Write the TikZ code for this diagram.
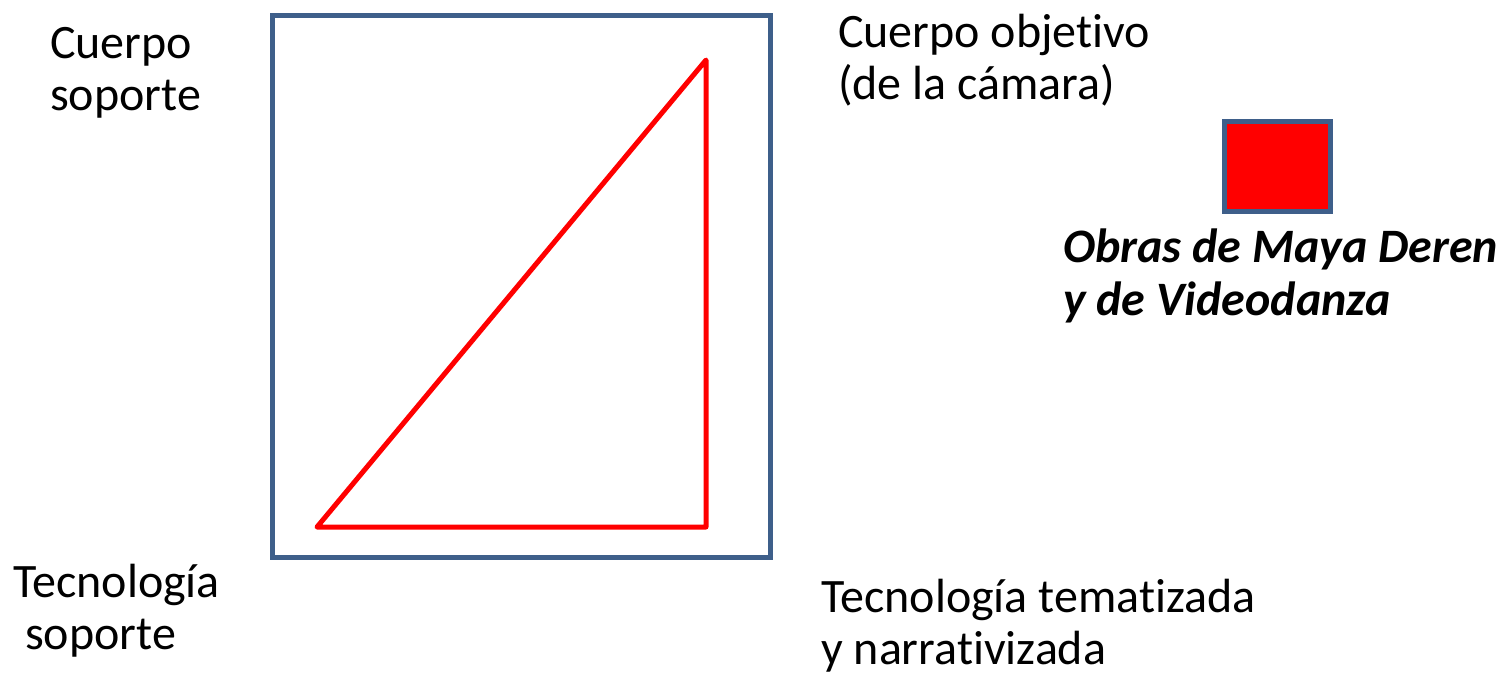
\documentclass[tikz,border=0pt]{standalone}
\usepackage{fontspec}
\setmainfont{Carlito}[Ligatures=NoCommon]
\begin{document}
\begin{tikzpicture}[x=1pt,y=-1pt,
  lbl/.style={inner sep=0pt,align=left,font=\fontsize{48}{52}\selectfont},
  frame/.style={draw=outline,line width=5pt,outer sep=0pt,inner sep=0pt},
  tri/.style={draw=red,line width=5pt,line join=round,line cap=round}]
\definecolor{outline}{HTML}{3E5F8A}
\useasboundingbox (0,0) rectangle (1505,681);
\node[frame,minimum width=498pt,minimum height=542pt,anchor=north west] (box) at (272.5,15.5) {};
\coordinate (a) at (317,527);
\coordinate (b) at (706,60);
\coordinate (c) at (706,527);
\draw[tri] (a) -- (b) -- (c) -- cycle;
\node[frame,fill=red,minimum width=106pt,minimum height=89.5pt,anchor=north west] (sq) at (1224.5,121.5) {};
\node[lbl,anchor=base west] (cs) at (50,110) {Cuerpo\\soporte};
\node[lbl,anchor=base west] (co) at (838,99) {Cuerpo objetivo\\(de la cámara)};
\node[lbl,anchor=base west] (ts) at (13,649) {Tecnología\\\hspace*{12pt}soporte};
\node[lbl,anchor=base west] (tt) at (821,664) {Tecnología tematizada\\y narrativizada};
\node[lbl,anchor=base west,font=\fontsize{48}{53}\selectfont\bfseries\itshape] (ob) at (1063,315) {Obras de Maya Deren\\y de Videodanza};
\end{tikzpicture}
\end{document}
